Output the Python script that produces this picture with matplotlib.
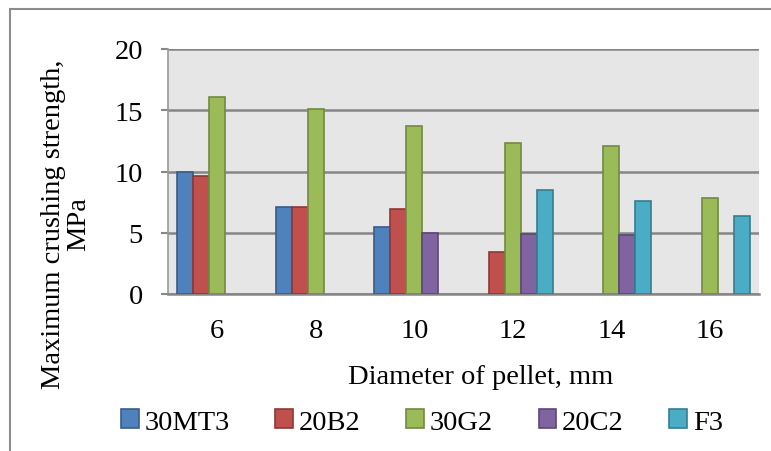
import numpy as np
import matplotlib.pyplot as plt
from matplotlib.patches import Rectangle

diameters = ['6', '8', '10', '12', '14', '16']
series_names = ['30MT3', '20B2', '30G2', '20C2', 'F3']
s_30mt3 = [10.0, 7.1, 5.5, np.nan, np.nan, np.nan]
s_20b2 = [9.6, 7.1, 6.9, 3.4, np.nan, np.nan]
s_30g2 = [16.1, 15.1, 13.7, 12.3, 12.1, 7.85]
s_20c2 = [np.nan, np.nan, 5.0, 4.9, 4.85, np.nan]
s_f3 = [np.nan, np.nan, np.nan, 8.5, 7.6, 6.35]

colors = ['#4F81BD', '#C0504D', '#9BBB59', '#8064A2', '#4BACC6']
edges = ['#385D8A', '#8C3836', '#71893F', '#5C4776', '#357D91']

plt.rcParams['font.family'] = ['Liberation Serif', 'DejaVu Serif']
fs = 20.5

fig = plt.figure(figsize=(7.71, 4.52), dpi=100)
ax = fig.add_axes([168 / 771, 1 - 295 / 452, (759 - 168) / 771, (295 - 50) / 452])

x = np.arange(len(diameters))
w = 0.162
data = [s_30mt3, s_20b2, s_30g2, s_20c2, s_f3]
for i, vals in enumerate(data):
    ax.bar(x + (i - 2) * w, vals, width=w, color=colors[i], edgecolor=edges[i],
           linewidth=1.2, label=series_names[i], zorder=3)

ax.set_facecolor('#e6e6e6')
ax.set_xlim(-0.5, len(diameters) - 0.5)
ax.set_ylim(0, 20)
ax.set_yticks([0, 5, 10, 15, 20])
ax.set_xticks(x)
ax.set_xticklabels(diameters)
ax.grid(axis='y', color='#868686', linewidth=1.8, zorder=1)
for side in ['top', 'right']:
    ax.spines[side].set_visible(False)
ax.spines['left'].set_color('#9a9a9a')
ax.spines['left'].set_linewidth(1.2)
ax.spines['bottom'].set_color('#868686')
ax.spines['bottom'].set_linewidth(1.8)
ax.tick_params(axis='y', length=5, width=1.5, color='#868686', labelsize=fs, pad=13)
ax.tick_params(axis='x', length=0, labelsize=fs, pad=17)

fig.text(66 / 771, 1 - 224 / 452, 'Maximum crushing strength,\nMPa', rotation=90,
         ha='center', va='center', fontsize=fs, linespacing=1.0, multialignment='center')
fig.text(481 / 771, 1 - 378 / 452, 'Diameter of pellet, mm', ha='center', va='center', fontsize=fs)

fig.legend(loc='center', bbox_to_anchor=(422 / 771, 1 - 423 / 452), ncol=5, frameon=False,
           fontsize=fs, handlelength=0.63, handleheight=0.63, handletextpad=0.2,
           columnspacing=1.6, borderpad=0, borderaxespad=0)

fig.patches.append(Rectangle((10 / 771, -0.1), 1.2, 1 - 10 / 452 + 0.1, transform=fig.transFigure,
                             fill=False, edgecolor='#8c8c8c', linewidth=1.5))

fig.savefig('out.png', dpi=100)
